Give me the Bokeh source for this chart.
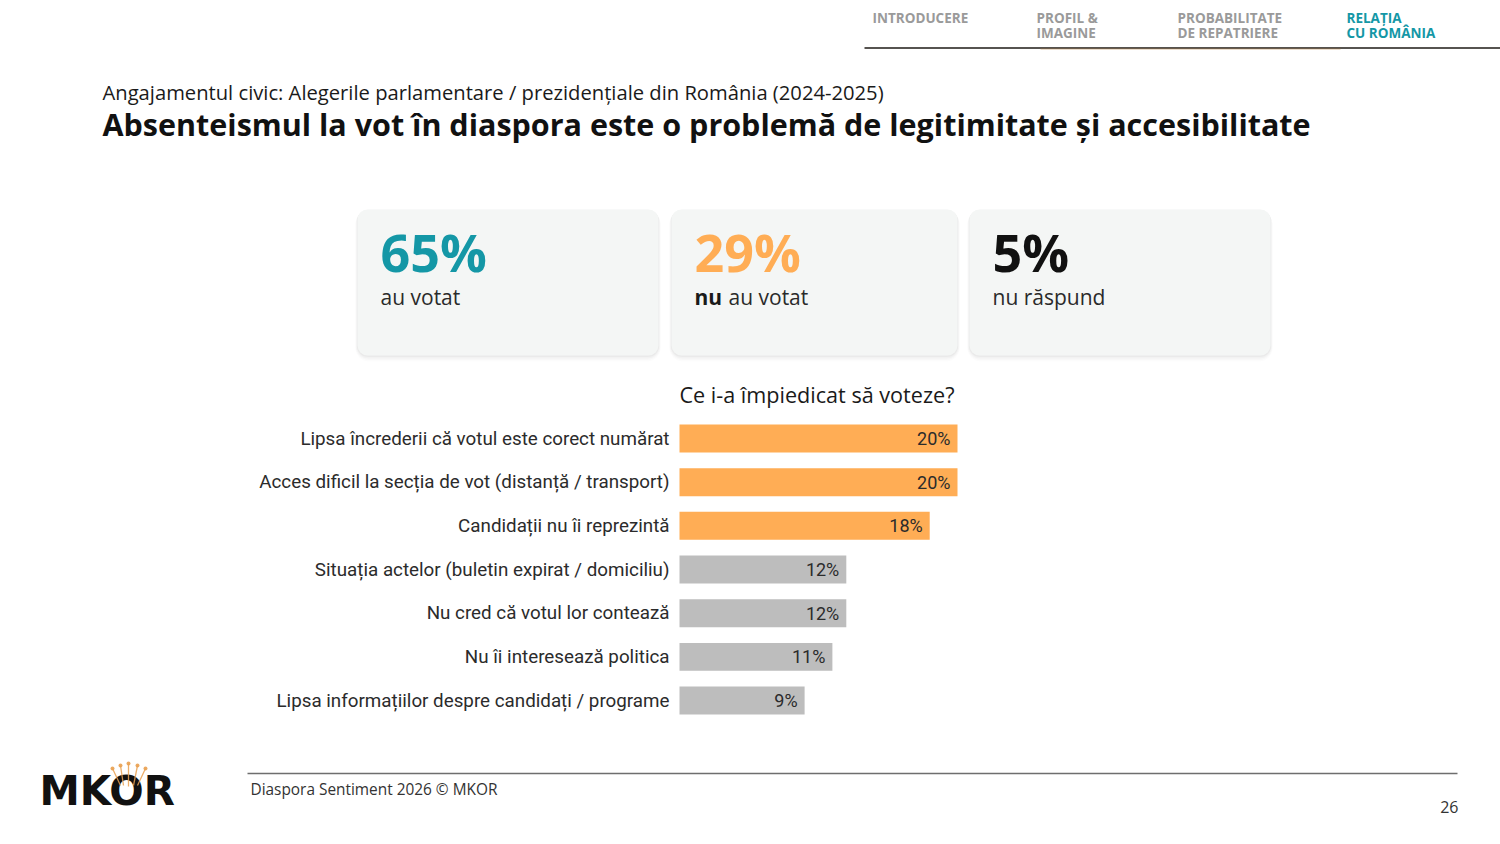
from bokeh.plotting import figure
from bokeh.models import Range1d, BoxAnnotation, ColumnDataSource
from bokeh.core.properties import value
from bokeh.embed import file_html
from bokeh.resources import INLINE

# ---------------------------------------------------------------- data
reasons = [
    "Lipsa încrederii că votul este corect numărat",
    "Acces dificil la secția de vot (distanță / transport)",
    "Candidații nu îi reprezintă",
    "Situația actelor (buletin expirat / domiciliu)",
    "Nu cred că votul lor contează",
    "Nu îi interesează politica",
    "Lipsa informațiilor despre candidați / programe",
]
shares = [20, 20, 18, 12, 12, 11, 9]

kpi_values = [65, 29, 5]
kpi_labels = ["au votat", "au votat", "nu răspund"]
kpi_prefix = ["", "nu", ""]

nav_items = ["INTRODUCERE", "PROFIL &\nIMAGINE", "PROBABILITATE\nDE REPATRIERE", "RELAȚIA\nCU ROMÂNIA"]

subtitle = "Angajamentul civic: Alegerile parlamentare / prezidențiale din România (2024-2025)"
title = "Absenteismul la vot în diaspora este o problemă de legitimitate și accesibilitate"
question = "Ce i-a împiedicat să voteze?"
footer = "Diaspora Sentiment 2026 © MKOR"
page_no = "26"

# ---------------------------------------------------------------- style
W, H = 1500, 844
TEAL = "#1497A6"
ORANGE = "#FFAD55"
GREY_BAR = "#BDBDBD"
CARD_BG = "#F4F6F5"
HEAD_FONT = value("Open Sans")
BAR_FONT = value("Roboto")

p = figure(width=W, height=H, output_backend="svg", toolbar_location=None,
           x_range=Range1d(0, W), y_range=Range1d(H, 0),
           min_border=0, outline_line_color=None, background_fill_color="white",
           border_fill_color="white")
p.axis.visible = False
p.grid.visible = False

# bar scale: percentage axis and row axis layered on the page frame
px_per_pct = 13.9
bar_origin = 679
p.extra_x_ranges = {"pct": Range1d(-bar_origin / px_per_pct, (W - bar_origin) / px_per_pct)}
row0, row_step = 438, 43.67
p.extra_y_ranges = {"rows": Range1d((H - row0) / row_step, -row0 / row_step)}

# ---------------------------------------------------------------- navigation
nav_x = [872, 1036, 1177, 1346]
for i, (label, x) in enumerate(zip(nav_items, nav_x)):
    color = TEAL if i == 3 else "#9A9A9A"
    for j, line in enumerate(label.split("\n")):
        p.text(x=[x], y=[17 + 15 * j], text=[line], text_font=HEAD_FONT,
               text_font_style="bold", text_font_size="13.5px", text_color=color,
               text_baseline="middle", text_align="left")
p.segment(x0=[864], y0=[47.5], x1=[W], y1=[47.5], line_color="#1E1A16", line_width=1.6)
p.segment(x0=[1040], y0=[48.5], x1=[1340], y1=[48.5], line_color="#B07A3A", line_width=1, line_alpha=0.5)

# ---------------------------------------------------------------- headings
p.text(x=[102], y=[91.5], text=[subtitle], text_font=HEAD_FONT, text_font_size="20.2px",
       text_color="#1A1A1A", text_baseline="middle")
p.text(x=[102], y=[123.5], text=[title], text_font=HEAD_FONT, text_font_style="bold",
       text_font_size="30.5px", text_color="#111111", text_baseline="middle")

# ---------------------------------------------------------------- KPI cards
cards = [(357, 658), (671, 957), (969, 1270)]
kpi_colors = [TEAL, ORANGE, "#111111"]
for (l, r), v, lab, pre, c in zip(cards, kpi_values, kpi_labels, kpi_prefix, kpi_colors):
    # soft drop shadow, heavier towards the bottom edge
    for k, a in enumerate([0.03, 0.022, 0.016, 0.01]):
        d = k + 1
        p.add_layout(BoxAnnotation(left=l - d * 0.6, right=r + d * 0.6, top=209 + d * 0.3,
                                   bottom=355 + d * 1.5, fill_color="#000000", fill_alpha=a,
                                   line_color=None, border_radius=10 + d, level="underlay"))
    p.add_layout(BoxAnnotation(left=l, right=r, top=209, bottom=355, fill_color=CARD_BG,
                               fill_alpha=1, line_color=None, border_radius=10, level="underlay"))
    tx = l + 23
    p.text(x=[tx], y=[251], text=[f"{v}%"], text_font=HEAD_FONT, text_font_style="bold",
           text_font_size="52px", text_color=c, text_baseline="middle")
    if pre:
        p.text(x=[tx], y=[296.5], text=[pre], text_font=HEAD_FONT, text_font_style="bold",
               text_font_size="21px", text_color="#1A1A1A", text_baseline="middle")
        p.text(x=[tx + 34], y=[296.5], text=[lab], text_font=HEAD_FONT,
               text_font_size="21px", text_color="#2A2A2A", text_baseline="middle")
    else:
        p.text(x=[tx], y=[296.5], text=[lab], text_font=HEAD_FONT,
               text_font_size="21px", text_color="#2A2A2A", text_baseline="middle")

# ---------------------------------------------------------------- bar chart
rows = list(range(len(reasons)))
src = ColumnDataSource(dict(
    row=rows, share=shares, reason=reasons,
    label=[f"{s}%" for s in shares],
    color=[ORANGE if s >= 15 else GREY_BAR for s in shares],
))
p.hbar(y="row", left=0, right="share", height=0.64, fill_color="color", line_color=None,
       source=src, x_range_name="pct", y_range_name="rows")
p.text(x=0, y="row", text="reason", source=src, x_range_name="pct", y_range_name="rows",
       x_offset=-10, text_align="right", text_baseline="middle", text_font=BAR_FONT,
       text_font_size="18.8px", text_color="#2B2B2B")
p.text(x="share", y="row", text="label", source=src, x_range_name="pct", y_range_name="rows",
       x_offset=-7, text_align="right", text_baseline="middle", text_font=BAR_FONT,
       text_font_size="18px", text_color="#2B2B2B")
p.text(x=[0], y=[-1], text=[question], x_range_name="pct", y_range_name="rows",
       text_align="left", text_baseline="middle", text_font=HEAD_FONT,
       text_font_size="21.6px", text_color="#1A1A1A")

# ---------------------------------------------------------------- footer
p.segment(x0=[247], y0=[773], x1=[1457], y1=[773], line_color="#6E6E6E", line_width=1.5)
p.text(x=[250], y=[789], text=[footer], text_font=HEAD_FONT, text_font_size="15.4px",
       text_color="#333333", text_baseline="middle")
p.text(x=[1458], y=[806], text=[page_no], text_font=HEAD_FONT, text_font_size="16px",
       text_color="#333333", text_baseline="middle", text_align="right")

# logo: wordmark with a small crown over the O
p.text(x=[39], y=[790], text=["MKOR"], text_font=value("DejaVu Sans"), text_font_style="bold",
       text_font_size="40.5px", text_color="#111111", text_baseline="middle")
crown_tips_x = [112, 120, 128, 137, 145]
crown_tips_y = [768, 765, 763, 765, 768]
p.segment(x0=[120, 123, 128, 133, 137], y0=[785, 785, 786, 785, 785],
          x1=crown_tips_x, y1=crown_tips_y, line_color="#E9A050", line_width=1.3, line_alpha=0.85)
p.scatter(x=crown_tips_x, y=crown_tips_y, size=4, fill_color="#E9A050", line_color=None, alpha=0.9)

open("out.html", "w").write(file_html(p, INLINE))
